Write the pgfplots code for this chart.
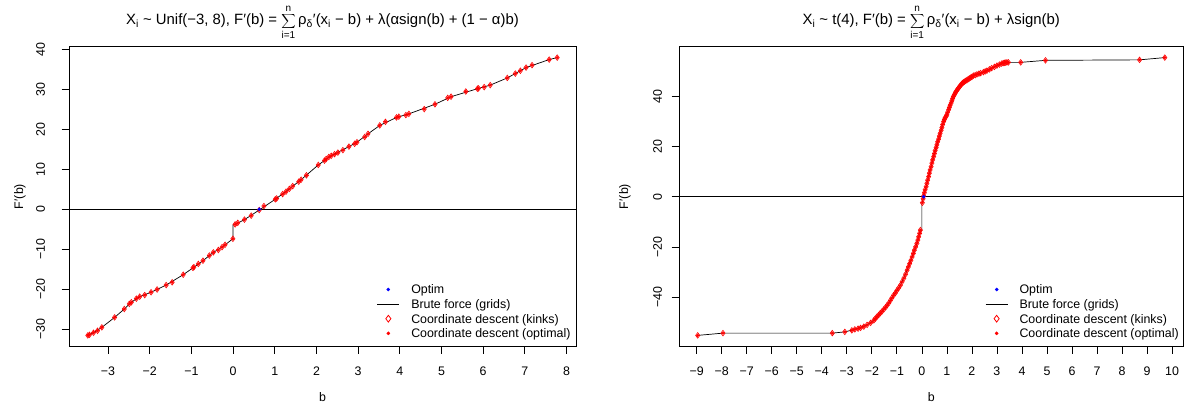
\documentclass[border=0pt]{standalone}
\usepackage{pgfplots}
\pgfplotsset{compat=1.18}
\usepackage{pgfplotstable}
\usepackage{fontspec}
\setmainfont{Liberation Sans}

\pgfplotstableread{
b F
-3.486 -31.61
-3.446 -31.45
-3.349 -30.95
-3.253 -30.45
-3.149 -29.6
-2.843 -27.1
-2.610 -25.0
-2.490 -23.7
-2.441 -23.3
-2.321 -22.4
-2.241 -21.9
-2.120 -21.5
-1.968 -20.8
-1.823 -20.1
-1.606 -19.0
-1.462 -18.3
-1.197 -16.4
-0.964 -14.7
-0.940 -14.5
-0.835 -13.7
-0.723 -12.9
-0.570 -11.6
-0.474 -10.8
-0.354 -10.2
-0.265 -9.5
-0.193 -8.9
-0.005 -7.4
0.048 -3.8
0.112 -3.4
0.273 -2.6
0.434 -1.6
0.627 -0.2
0.739 0.8
1.012 2.5
1.044 2.7
1.189 3.8
1.269 4.4
1.349 5.1
1.430 5.8
1.574 6.9
1.631 7.4
1.759 8.5
2.044 11.1
2.193 12.2
2.233 12.6
2.297 13.1
2.354 13.4
2.434 13.8
2.514 14.2
2.634 14.8
2.779 15.7
2.916 16.4
2.972 16.8
3.157 18.1
3.237 18.9
3.518 21.0
3.655 21.9
3.920 23.0
3.976 23.2
4.145 23.6
4.217 23.9
4.586 25.1
4.843 26.3
5.149 27.9
5.229 28.2
5.583 29.5
5.863 30.2
5.887 30.3
6.024 30.6
6.169 31.1
6.578 32.9
6.771 34.0
6.892 34.7
7.029 35.5
7.173 36.1
7.583 37.5
7.776 38.0
}\leftpts

\pgfplotstableread{
b F
-3.486 -31.61
-3.349 -30.95
-3.149 -29.6
-2.843 -27.1
-2.610 -25.0
-2.441 -23.3
-2.241 -21.9
-1.968 -20.8
-1.606 -19.0
-1.197 -16.4
-0.964 -14.7
-0.723 -12.9
-0.474 -10.8
-0.265 -9.5
-0.005 -7.4
0.000 -3.9
0.048 -3.8
0.273 -2.6
0.627 -0.2
1.012 2.5
1.349 5.1
1.631 7.4
2.044 11.1
2.354 13.4
2.779 15.7
2.972 16.8
3.237 18.9
3.518 21.0
3.920 23.0
4.217 23.9
4.843 26.3
5.229 28.2
5.863 30.2
6.169 31.1
6.578 32.9
7.029 35.5
7.583 37.5
7.776 38.0
}\leftline

\pgfplotstableread{
b F
-8.96 -55.3
-7.95 -54.4
-3.58 -54.4
-3.08 -53.9
-2.80 -53.3
-2.68 -52.9
-2.55 -52.6
-2.45 -52.3
-2.32 -51.8
-2.19 -51.1
-2.05 -50.3
-1.92 -49.3
-1.86 -48.6
-1.80 -47.9
-1.73 -47.2
-1.66 -46.4
-1.59 -45.7
-1.52 -44.9
-1.45 -44.1
-1.39 -43.3
-1.32 -42.4
-1.26 -41.4
-1.20 -40.4
-1.13 -39.3
-1.06 -38.4
-1.00 -37.4
-0.93 -36.4
-0.86 -35.3
-0.79 -33.9
-0.72 -32.5
-0.65 -30.9
-0.59 -29.3
-0.54 -28.0
-0.49 -26.7
-0.44 -25.4
-0.39 -24.0
-0.34 -22.6
-0.30 -21.3
-0.25 -20.0
-0.20 -18.6
-0.16 -17.3
-0.13 -16.0
-0.09 -14.6
-0.06 -13.3
0.02 -2.4
0.05 -0.8
0.07 0.3
0.10 1.6
0.13 2.8
0.17 4.0
0.20 5.3
0.23 6.6
0.27 8.0
0.30 9.4
0.33 10.7
0.37 12.0
0.40 13.4
0.43 14.7
0.47 16.0
0.50 17.2
0.53 18.4
0.57 19.6
0.60 20.7
0.63 21.9
0.67 23.0
0.70 24.2
0.73 25.3
0.77 26.5
0.80 27.6
0.83 28.8
0.87 30.0
0.90 30.8
0.93 31.5
0.97 32.1
1.00 32.7
1.03 33.7
1.07 34.7
1.10 35.6
1.13 36.5
1.17 37.4
1.20 38.3
1.23 39.2
1.26 40.0
1.30 40.7
1.33 41.3
1.36 41.9
1.40 42.4
1.43 42.9
1.46 43.3
1.50 43.8
1.53 44.3
1.58 44.8
1.62 45.3
1.66 45.6
1.70 45.9
1.75 46.2
1.80 46.5
1.85 46.9
1.90 47.2
1.95 47.5
2.00 47.8
2.06 48.3
2.13 48.5
2.20 48.8
2.28 49.1
2.35 49.3
2.46 49.7
2.53 50.0
2.60 50.3
2.70 50.8
2.79 51.3
2.90 51.8
3.00 52.3
3.10 52.7
3.19 53.1
3.25 53.3
3.30 53.4
3.35 53.5
3.40 53.6
3.46 53.6
3.95 53.6
4.94 54.4
8.70 54.6
9.71 55.5
}\rightpts

\pgfplotstableread{
b F
-8.96 -55.3
-7.95 -54.4
-3.58 -54.4
-3.08 -53.9
-2.68 -52.9
-2.19 -51.1
-1.92 -49.3
-1.66 -46.4
-1.39 -43.3
-1.13 -39.3
-0.86 -35.3
-0.59 -29.3
-0.39 -24.0
-0.20 -18.6
-0.06 -13.3
0.00 -13.4
0.00 -2.6
0.02 -2.4
0.07 0.3
0.20 5.3
0.33 10.7
0.47 16.0
0.60 20.7
0.73 25.3
0.87 30.0
1.00 32.7
1.13 36.5
1.26 40.0
1.46 43.3
1.70 45.9
2.06 48.3
2.46 49.7
2.79 51.3
3.19 53.1
3.46 53.6
3.95 53.6
4.94 54.4
8.70 54.6
9.71 55.5
}\rightline

\pgfplotstableread{
b F
0.627 0
}\leftopt
\pgfplotstableread{
b F
0.07 0
}\rightopt

\newcommand{\rsum}{{\fontsize{12}{12}\selectfont$\displaystyle\sum_{\mbox{\fontsize{10}{10}\selectfont i=1}}^{\mbox{\fontsize{10}{10}\selectfont n}}$}}

\pgfplotsset{
  rstyle/.style={
    scale only axis,
    anchor=south west,
    height=300pt,
    axis line style={line width=0.75pt, black},
    tick style={line width=0.75pt, black},
    tick align=outside,
    major tick length=7.5pt,
    xtick pos=left, ytick pos=left,
    font=\fontsize{12.4}{14.8}\selectfont,
    tick label style={font=\fontsize{12.4}{14.8}\selectfont},
    xticklabel style={anchor=center},
    yticklabel style={rotate=90, anchor=center},
    xlabel style={at={(axis description cs:0.5,0)}, anchor=center, yshift=-50.5pt},
    title style={at={(axis description cs:0.5,1)}, anchor=base, yshift=16pt, font=\fontsize{14.9}{17}\selectfont},
    legend cell align=left,
    legend style={draw=none, fill=none, anchor=north west, inner sep=0pt, row sep=2.6pt,
      font=\fontsize{12.4}{14.8}\selectfont,
      nodes={inner sep=0pt, text height=9pt, text depth=3pt},
      /tikz/every odd column/.append style={column sep=11.5pt}},
  },
  lineimg/.style={legend image code/.code={\draw[##1] (-11pt,1.4pt) -- (11pt,1.4pt);}},
  markimg/.style={legend image code/.code={\draw[##1] plot coordinates {(0pt,1.4pt)};}},
}

\begin{document}
\begin{tikzpicture}[x=1pt,y=1pt]
\useasboundingbox (0,0) rectangle (1186,409);

\begin{axis}[rstyle,
  at={(69pt,62.5pt)}, width=507pt,
  xmin=-3.937, xmax=8.227, ymin=-34.39, ymax=40.78,
  xtick={-3,-2,-1,0,1,2,3,4,5,6,7,8},
  xticklabels={−3,−2,−1,0,1,2,3,4,5,6,7,8},
  ytick={-30,-20,-10,0,10,20,30,40},
  yticklabels={−30,−20,−10,0,10,20,30,40},
  xticklabel shift=17pt,
  yticklabel shift=21pt,
  xlabel={b}, ylabel={F′(b)},
  ylabel style={at={(axis description cs:-0.0966,0.5)}, anchor=center},
  title={X\textsubscript{i} \textasciitilde{} Unif(−3, 8), F′(b) = \rsum\,ρ\textsubscript{δ}′(x\textsubscript{i} − b) + λ(αsign(b) + (1 − α)b)},
  legend style={at={(axis description cs:0.607,0.206)}},
]
\addlegendimage{markimg, only marks, mark=*, mark size=1.6pt, blue}
\addlegendentry{Optim}
\addlegendimage{lineimg, black, line width=0.8pt}
\addlegendentry{Brute force (grids)}
\addlegendimage{markimg, only marks, mark=diamond, mark size=3.4pt, red, line width=0.8pt}
\addlegendentry{Coordinate descent (kinks)}
\addlegendimage{markimg, only marks, mark=*, mark size=1.6pt, red}
\addlegendentry{Coordinate descent (optimal)}

\addplot[black, line width=0.75pt, forget plot] coordinates {(-3.937,0) (8.227,0)};
\addplot[black, line width=0.7pt, forget plot] table[x=b, y=F] {\leftline};
\addplot[only marks, mark=diamond, mark size=2.8pt, red, line width=0.6pt, forget plot] table[x=b, y=F] {\leftpts};
\addplot[only marks, mark=*, mark size=1.3pt, red, forget plot] table[x=b, y=F] {\leftpts};
\addplot[only marks, mark=*, mark size=1.6pt, blue, forget plot] table[x=b, y=F] {\leftopt};
\end{axis}

\begin{axis}[rstyle,
  at={(679pt,62.5pt)}, width=504.5pt,
  xmin=-9.707, xmax=10.457, ymin=-59.73, ymax=59.93,
  xtick={-9,-8,-7,-6,-5,-4,-3,-2,-1,0,1,2,3,4,5,6,7,8,9,10},
  xticklabels={−9,−8,−7,−6,−5,−4,−3,−2,−1,0,1,2,3,4,5,6,7,8,9,10},
  ytick={-40,-20,0,20,40},
  yticklabels={−40,−20,0,20,40},
  xticklabel shift=17pt,
  yticklabel shift=14pt,
  xlabel={b}, ylabel={F′(b)},
  ylabel style={at={(axis description cs:-0.107,0.5)}, anchor=center},
  title={X\textsubscript{i} \textasciitilde{} t(4), F′(b) = \rsum\,ρ\textsubscript{δ}′(x\textsubscript{i} − b) + λsign(b)},
  legend style={at={(axis description cs:0.6066,0.206)}},
]
\addlegendimage{markimg, only marks, mark=*, mark size=1.6pt, blue}
\addlegendentry{Optim}
\addlegendimage{lineimg, black, line width=0.8pt}
\addlegendentry{Brute force (grids)}
\addlegendimage{markimg, only marks, mark=diamond, mark size=3.4pt, red, line width=0.8pt}
\addlegendentry{Coordinate descent (kinks)}
\addlegendimage{markimg, only marks, mark=*, mark size=1.6pt, red}
\addlegendentry{Coordinate descent (optimal)}

\addplot[black, line width=0.75pt, forget plot] coordinates {(-9.707,0) (10.457,0)};
\addplot[black, line width=0.7pt, forget plot] table[x=b, y=F] {\rightline};
\addplot[only marks, mark=diamond, mark size=2.8pt, red, line width=0.6pt, forget plot] table[x=b, y=F] {\rightpts};
\addplot[only marks, mark=*, mark size=1.3pt, red, forget plot] table[x=b, y=F] {\rightpts};
\addplot[only marks, mark=*, mark size=1.6pt, blue, forget plot] table[x=b, y=F] {\rightopt};
\end{axis}
\end{tikzpicture}
\end{document}
